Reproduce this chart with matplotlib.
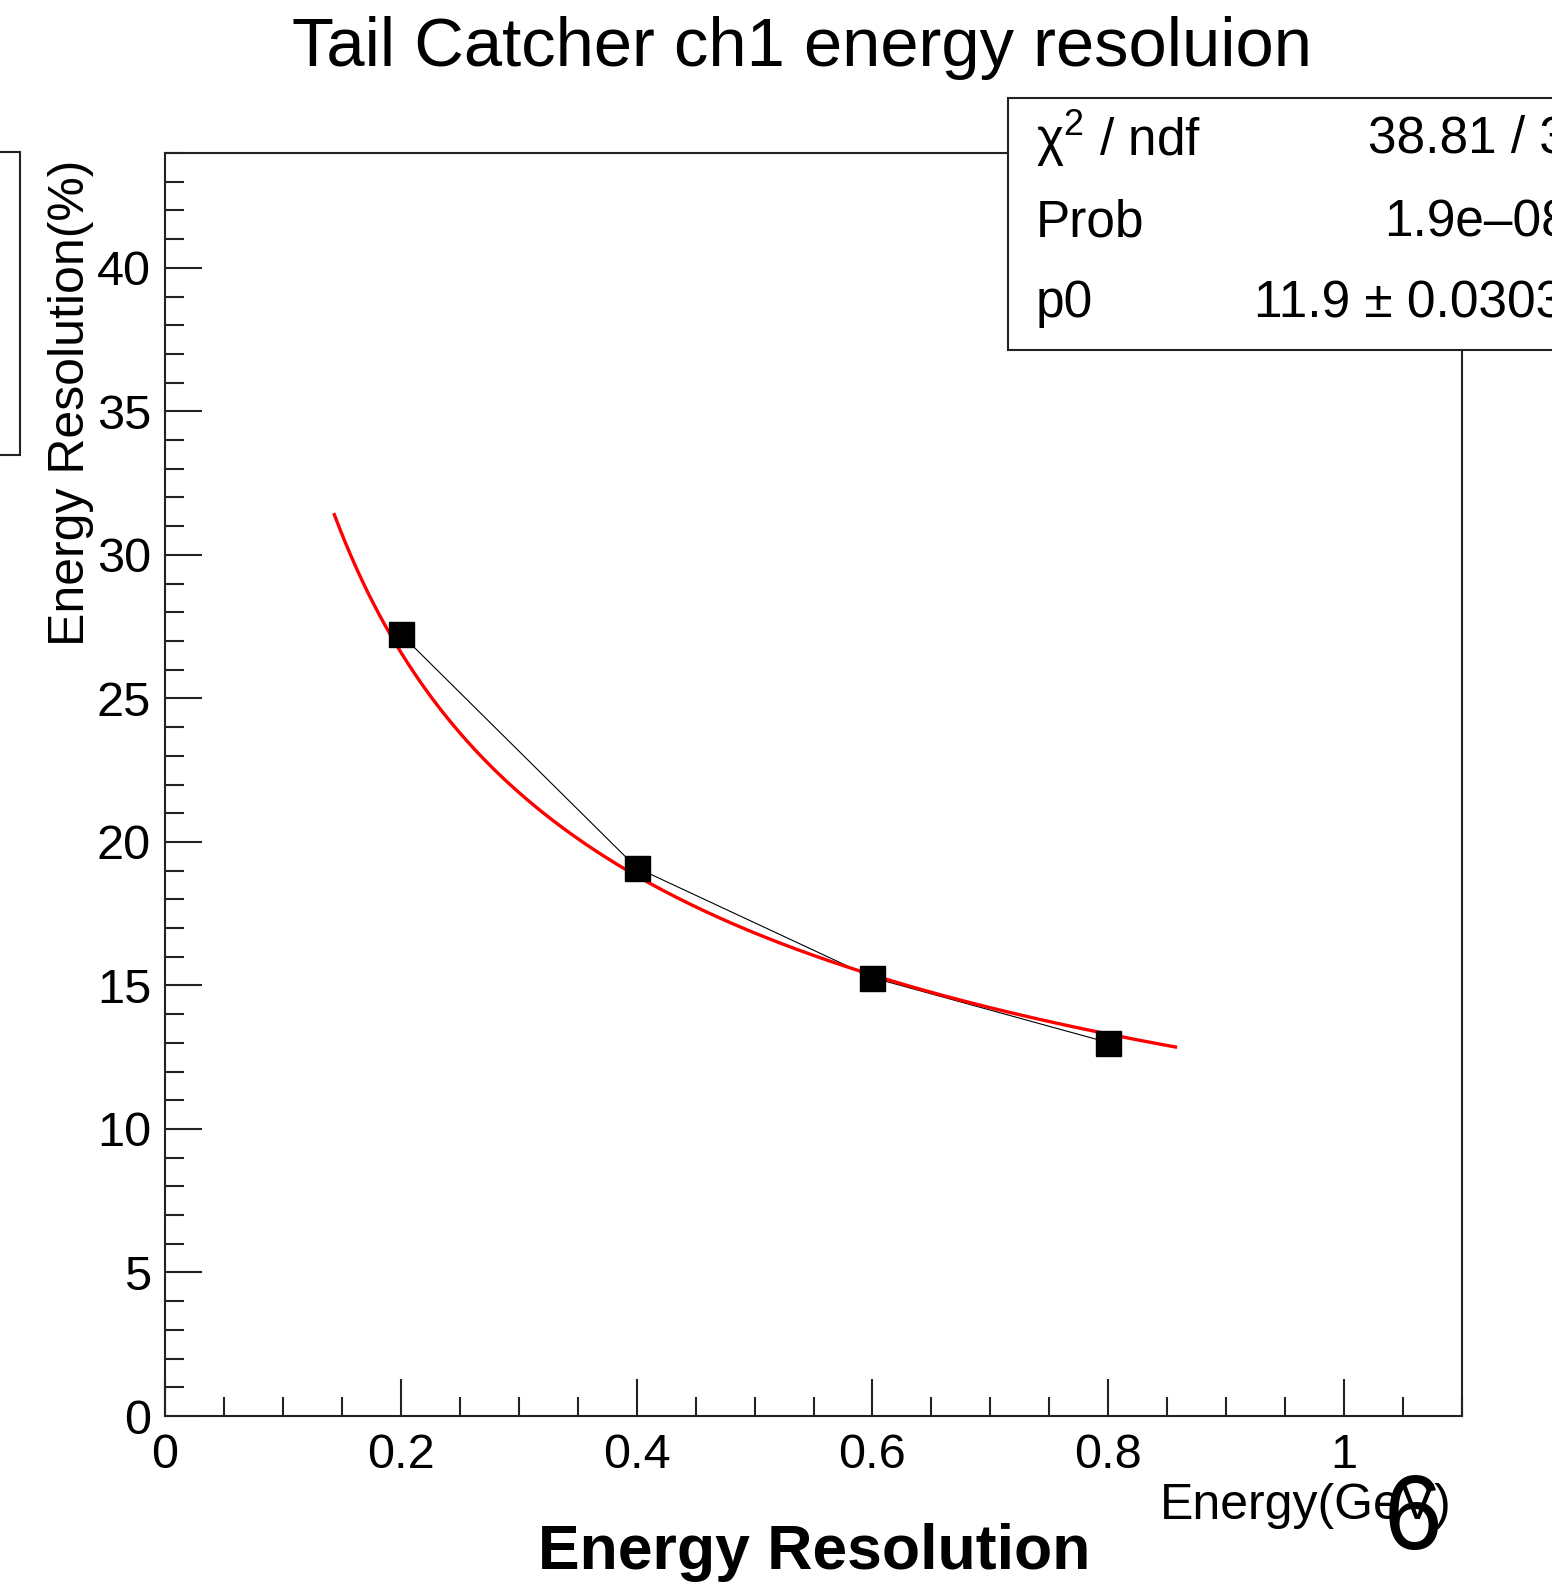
"""
Tail catcher ch1 energy resolution (ROOT-style canvas).
"""
import numpy as np
import matplotlib
matplotlib.use('Agg')
import matplotlib.pyplot as plt
import matplotlib.patches as mpatches
from matplotlib.ticker import MultipleLocator

plt.rcParams['font.family'] = ['Liberation Sans', 'DejaVu Sans']
plt.rcParams['mathtext.fontset'] = 'custom'
plt.rcParams['mathtext.rm'] = 'Liberation Sans'
plt.rcParams['mathtext.it'] = 'Liberation Sans:italic'

# measured points
energy = [0.2, 0.4, 0.6, 0.8]
resolution = [27.24, 19.10, 15.27, 13.01]

# fit p0/sqrt(E)
p0 = 11.9
fit_range = (0.1436, 0.857)

stat_labels = ['χ$^{2}$ / ndf', 'Prob', 'p0']
stat_values = ['38.81 / 3', '1.9e–08', '11.9 ± 0.0303']

W, H = 1552, 1588


def fx(px):
    return px / W


def fy(py):
    return 1 - py / H


fig = plt.figure(figsize=(W / 100, H / 100), dpi=100)
ax = fig.add_axes([fx(165), fy(1416), fx(1462) - fx(165), fy(153) - fy(1416)])

ax.plot(energy, resolution, color='black', lw=0.8, zorder=2)
ax.plot(energy, resolution, ls='none', marker='s', ms=18, color='black', zorder=4)
xf = np.linspace(fit_range[0], fit_range[1], 300)
ax.plot(xf, p0 / np.sqrt(xf), color='red', lw=2.4, zorder=3)

ax.set_xlim(0, 1.1)
ax.set_ylim(0, 44)
ax.xaxis.set_major_locator(MultipleLocator(0.2))
ax.xaxis.set_minor_locator(MultipleLocator(0.05))
ax.yaxis.set_major_locator(MultipleLocator(5))
ax.yaxis.set_minor_locator(MultipleLocator(1))
ax.set_xticks([0, 0.2, 0.4, 0.6, 0.8, 1.0])
ax.set_xticklabels(['0', '0.2', '0.4', '0.6', '0.8', '1'])
ax.tick_params(which='both', direction='in', width=1.5, labelsize=35,
               top=False, right=False, colors='#222222', labelcolor='black')
ax.tick_params(which='major', length=26.5)
ax.tick_params(which='minor', length=13.5)
ax.tick_params(axis='x', pad=12)
ax.tick_params(axis='y', pad=10)
for s in ax.spines.values():
    s.set_linewidth(1.5)
    s.set_color('#222222')

ax.set_xlabel('Energy(GeV)', fontsize=36, ha='right', x=0.992, labelpad=4)
ax.set_ylabel('Energy Resolution(%)', fontsize=36, ha='right', y=0.995, labelpad=2)

fig.text(fx(802), fy(48), 'Tail Catcher ch1 energy resoluion', fontsize=49.5,
         ha='center', va='center')

# stats box (clipped at right edge)
box = mpatches.Rectangle((fx(1008), fy(350)), fx(700), fy(98) - fy(350),
                         transform=fig.transFigure, facecolor='white',
                         edgecolor='#222222', lw=1.5, zorder=10)
fig.add_artist(box)
rows_y = [139, 223, 304]
val_x = [1368, 1384, 1254]
for lab, val, ry, vx in zip(stat_labels, stat_values, rows_y, val_x):
    fig.text(fx(1036), fy(ry), lab, fontsize=37, ha='left', va='center', zorder=11)
    fig.text(fx(vx), fy(ry), val, fontsize=37, ha='left', va='center', zorder=11)

# partial box at the left edge
left_box = mpatches.Rectangle((fx(-20), fy(455)), fx(40), fy(152) - fy(455),
                              transform=fig.transFigure, facecolor='none',
                              edgecolor='#222222', lw=1.5)
fig.add_artist(left_box)

fig.text(fx(814), fy(1552), 'Energy Resolution', fontsize=45, fontweight='bold',
         ha='center', va='center')
fig.text(fx(1413), fy(1522), '6', fontsize=76, ha='center', va='center')

fig.savefig('out.png', dpi=100, facecolor='white')
